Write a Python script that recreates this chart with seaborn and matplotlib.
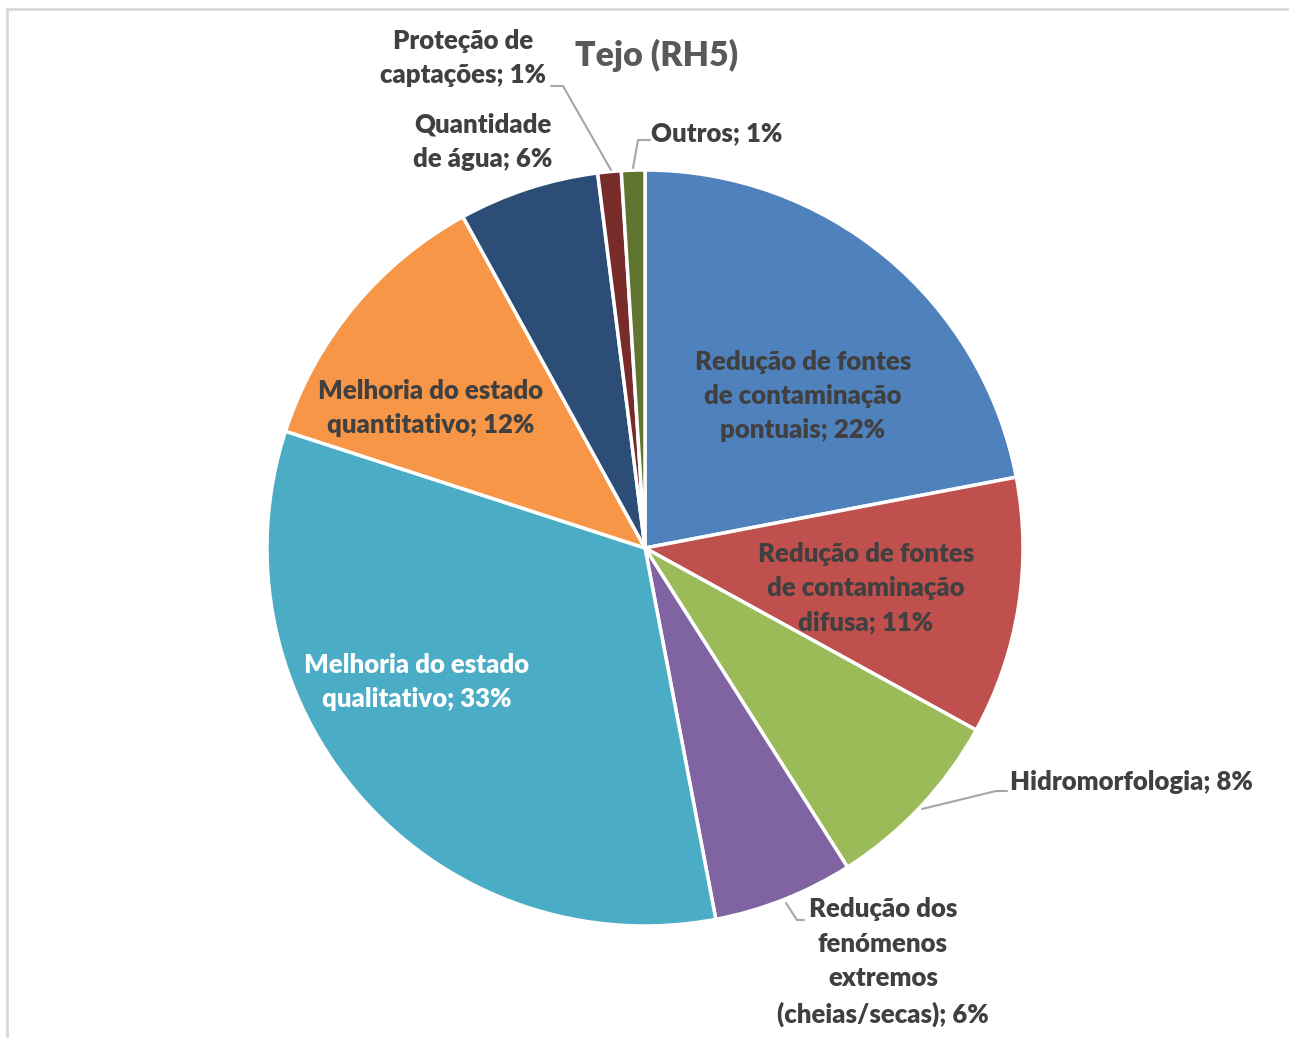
import matplotlib
matplotlib.use("Agg")
import matplotlib.pyplot as plt
import seaborn as sns
from matplotlib.patches import Rectangle

sns.set_theme(style="white")
plt.rcParams['font.family'] = ['Lato', 'DejaVu Sans']

title = "Tejo (RH5)"
categories = [
    "Redução de fontes\nde contaminação\npontuais",
    "Redução de fontes\nde contaminação\ndifusa",
    "Hidromorfologia",
    "Redução dos\nfenómenos\nextremos\n(cheias/secas)",
    "Melhoria do estado\nqualitativo",
    "Melhoria do estado\nquantitativo",
    "Quantidade\nde água",
    "Proteção de\ncaptações",
    "Outros",
]
values = [22, 11, 8, 6, 33, 12, 6, 1, 1]
colors = ["#4F81BD", "#C0504D", "#9BBB59", "#8064A2", "#4BACC6",
          "#F79646", "#2C4D75", "#772C2A", "#5F7530"]
palette = sns.color_palette(colors)

W, H = 1289, 1038
fig = plt.figure(figsize=(W / 100, H / 100), dpi=100)
ax = fig.add_axes([0, 0, 1, 1])

def Y(y):
    return H - y

cx, cy, r = 645, Y(548), 378
ax.pie(values, colors=palette, startangle=90, counterclock=False,
       center=(cx, cy), radius=r,
       wedgeprops=dict(edgecolor="white", linewidth=2.5))
ax.set_xlim(0, W)
ax.set_ylim(0, H)
ax.set_aspect("equal")
ax.axis("off")

# chart frame
ax.add_patch(Rectangle((7, Y(1040)), 1300, 1031, fill=False,
                       edgecolor="#D9D9D9", linewidth=2, zorder=0))

txt = "#404040"
fs = 18.5
labels = [f"{c}; {v}%" for c, v in zip(categories, values)]
# label placement (pixel coords of text center)
pos = [(803, 396), (866, 588), (1131, 782), (883, 962), (417, 682),
       (431, 408), (483, 142), (463, 58), (717, 133)]
tcol = [txt, txt, txt, txt, "white", txt, txt, txt, txt]
for lab, (x, y), c in zip(labels, pos, tcol):
    ax.text(x, Y(y), lab, ha="center", va="center", fontsize=fs,
            fontweight="heavy", color=c, linespacing=1.52)

ax.text(657, Y(55), title, ha="center", va="center", fontsize=24.5,
        fontweight="heavy", color="#595959")

# leader lines
leaders = [
    [(551, 86), (563, 86), (611, 170)],
    [(650, 140), (638, 140), (633, 168)],
    [(922, 809), (996, 791), (1007, 791)],
    [(786, 903), (797, 920), (804, 920)],
]
for pts in leaders:
    xs = [p[0] for p in pts]
    ys = [Y(p[1]) for p in pts]
    ax.plot(xs, ys, color="#A6A6A6", linewidth=1.5)

fig.savefig("out.png", dpi=100, facecolor="white")
